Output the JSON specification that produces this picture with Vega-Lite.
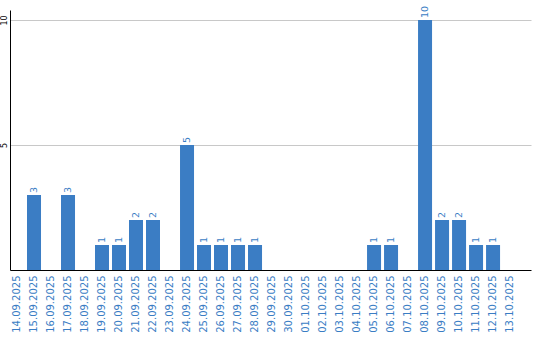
{
  "$schema": "https://vega.github.io/schema/vega-lite/v6.json",
  "width": 521,
  "height": 260,
  "autosize": {"type": "none"},
  "padding": {"left": 10, "top": 10, "right": 9, "bottom": 70},
  "background": "white",
  "config": {"view": {"stroke": null}, "font": "DejaVu Sans"},
  "data": {
    "values": [
      {"date": "14.09.2025", "count": 0},
      {"date": "15.09.2025", "count": 3},
      {"date": "16.09.2025", "count": 0},
      {"date": "17.09.2025", "count": 3},
      {"date": "18.09.2025", "count": 0},
      {"date": "19.09.2025", "count": 1},
      {"date": "20.09.2025", "count": 1},
      {"date": "21.09.2025", "count": 2},
      {"date": "22.09.2025", "count": 2},
      {"date": "23.09.2025", "count": 0},
      {"date": "24.09.2025", "count": 5},
      {"date": "25.09.2025", "count": 1},
      {"date": "26.09.2025", "count": 1},
      {"date": "27.09.2025", "count": 1},
      {"date": "28.09.2025", "count": 1},
      {"date": "29.09.2025", "count": 0},
      {"date": "30.09.2025", "count": 0},
      {"date": "01.10.2025", "count": 0},
      {"date": "02.10.2025", "count": 0},
      {"date": "03.10.2025", "count": 0},
      {"date": "04.10.2025", "count": 0},
      {"date": "05.10.2025", "count": 1},
      {"date": "06.10.2025", "count": 1},
      {"date": "07.10.2025", "count": 0},
      {"date": "08.10.2025", "count": 10},
      {"date": "09.10.2025", "count": 2},
      {"date": "10.10.2025", "count": 2},
      {"date": "11.10.2025", "count": 1},
      {"date": "12.10.2025", "count": 1},
      {"date": "13.10.2025", "count": 0}
    ]
  },
  "encoding": {
    "x": {
      "field": "date",
      "type": "ordinal",
      "sort": null,
      "scale": {"paddingInner": 0.176, "paddingOuter": 0.41, "align": 0},
      "axis": {
        "title": null,
        "labelAngle": -90,
        "labelColor": "#3a7dc4",
        "labelFontSize": 10,
        "labelPadding": 5,
        "ticks": false,
        "domainColor": "#000000",
        "domainWidth": 1
      }
    },
    "y": {
      "field": "count",
      "type": "quantitative",
      "scale": {"domain": [0, 10.4], "nice": false},
      "axis": {
        "title": null,
        "values": [5, 10],
        "labelAngle": -90,
        "labelAlign": "center",
        "labelBaseline": "bottom",
        "labelFontSize": 8,
        "labelColor": "#000000",
        "labelPadding": 2,
        "ticks": false,
        "domainColor": "#000000",
        "domainWidth": 1,
        "gridColor": "#c8c8c8",
        "gridWidth": 1
      }
    }
  },
  "layer": [
    {"mark": {"type": "bar", "color": "#3b7dc4"}},
    {
      "transform": [{"filter": "datum.count > 0"}],
      "mark": {
        "type": "text",
        "angle": 270,
        "align": "left",
        "baseline": "middle",
        "dx": 2,
        "fontSize": 9.5,
        "color": "#3a7dc4"
      },
      "encoding": {"text": {"field": "count", "type": "quantitative"}}
    }
  ]
}
